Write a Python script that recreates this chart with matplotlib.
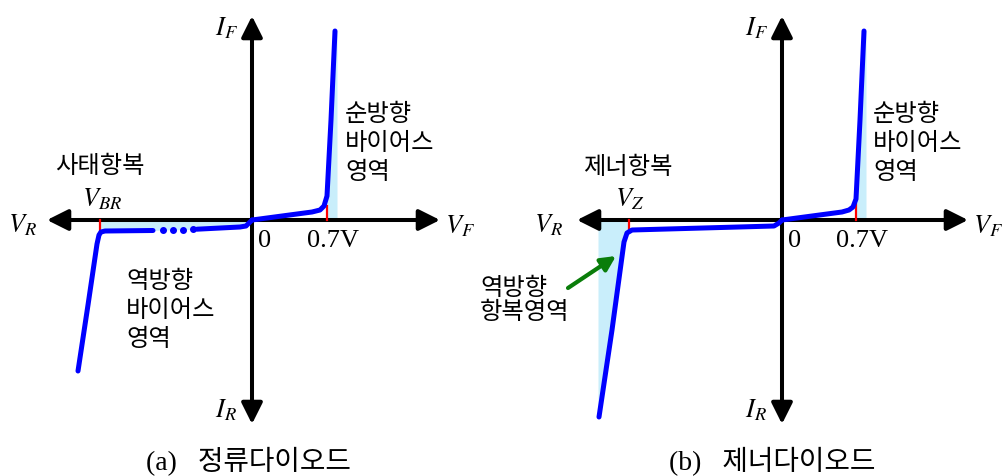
import matplotlib
matplotlib.use("Agg")
import matplotlib.pyplot as plt
import numpy as np

plt.rcParams['mathtext.fontset'] = 'stix'
KR = ['Noto Sans CJK KR']
SERIF_KR = ['Liberation Serif', 'Noto Sans CJK KR']
KS = 17.5

# ---------------- data (panel units: 1 unit ~ 1 px, origin at axis crossing) -------------
# panel (a) rectifier diode
a_rev_x = [-174, -164, -155, -153, -151, -147, -99]
a_rev_y = [-151, -85, -24, -15, -12, -11, -10.5]
a_dots_x = [-89, -79, -69, -59]
a_dots_y = [-10.0, -9.8, -9.6, -9.4]
a_rev2_x = [-55, -12, -6, -3, 0]
a_rev2_y = [-9.2, -7, -6, -3, 0]
a_fwd_x = [0, 60, 68, 72, 75, 79, 83]
a_fwd_y = [0, 8, 10, 14, 24, 100, 189]
a_vbr = -152
a_vbr_depth = -11
a_vf = 75
a_vf_height = 14
a_fwd_shade_edge = 85

# panel (b) zener diode
b_rev_x = [-183, -170, -158, -155, -150, -8, -3, 0]
b_rev_y = [-197, -110, -22, -13, -10, -6, -3, 0]
b_fwd_x = [0, 60, 67, 71, 74, 78, 82]
b_fwd_y = [0, 8, 10, 13, 21, 100, 189]
b_vz = -153
b_vz_depth = -10
b_vf = 74
b_vf_height = 16
b_fwd_shade_edge = 84
b_rev_shade_edge = -184

BLUE = '#0000ff'
SHADE = '#c9eefb'

fig = plt.figure(figsize=(10.03, 4.77), dpi=100)
axA = fig.add_axes([0, 0, 1, 1])
axB = fig.add_axes([0, 0, 1, 1])
axA.set_xlim(-252, 751)
axB.set_xlim(-782, 221)
for ax in (axA, axB):
    ax.set_ylim(-256, 221)
    ax.axis('off')
    ax.patch.set_alpha(0)


def draw_axes(ax, xl, xr, yb, yt):
    ap = dict(arrowstyle='-|>', lw=2.9, color='k', mutation_scale=32,
              shrinkA=0, shrinkB=0)
    ax.annotate('', xy=(xl, 0), xytext=(0, 0), arrowprops=ap, zorder=3)
    ax.annotate('', xy=(xr, 0), xytext=(0, 0), arrowprops=ap, zorder=3)
    ax.annotate('', xy=(0, yt), xytext=(0, 0), arrowprops=ap, zorder=3)
    ax.annotate('', xy=(0, yb), xytext=(0, 0), arrowprops=ap, zorder=3)


def kr(ax, x, y, t, ha='left', size=KS):
    ax.text(x, y, t, family=KR, fontsize=size, ha=ha, va='center')


# ---------------- panel (a) ----------------
ax = axA
xs = np.array(a_rev_x[3:] + a_dots_x + a_rev2_x)
ys = np.array(a_rev_y[3:] + a_dots_y + a_rev2_y)
ax.fill_between(xs, ys, 0, color=SHADE, lw=0, zorder=1)
fy = np.array(a_fwd_y[4:])
fx = np.array(a_fwd_x[4:])
ax.fill_betweenx(np.concatenate([[0], fy]), np.concatenate([[a_vf], fx]),
                 a_fwd_shade_edge, color=SHADE, lw=0, zorder=1)
draw_axes(ax, -205, 188, -204, 204)
ax.plot([a_vbr, a_vbr], [0, a_vbr_depth], color='red', lw=1.6, zorder=4)
ax.plot([a_vf, a_vf], [0, a_vf_height], color='red', lw=1.6, zorder=4)
ax.plot(a_rev_x, a_rev_y, color=BLUE, lw=3.6, solid_capstyle='round',
        solid_joinstyle='round', zorder=5)
ax.plot(a_dots_x, a_dots_y, 'o', color=BLUE, ms=4.0, zorder=5)
ax.plot(a_rev2_x, a_rev2_y, color=BLUE, lw=3.6, solid_capstyle='round',
        solid_joinstyle='round', zorder=5)
ax.plot(a_fwd_x, a_fwd_y, color=BLUE, lw=3.6, solid_capstyle='round',
        solid_joinstyle='round', zorder=5)

ms = 19
ax.text(-26, 193, r'$I_F$', fontsize=ms, ha='center', va='center')
ax.text(-26, -189, r'$I_R$', fontsize=ms, ha='center', va='center')
ax.text(-230, -4, r'$V_R$', fontsize=ms, ha='center', va='center')
ax.text(208, -5, r'$V_F$', fontsize=ms, ha='center', va='center')
ax.text(-150, 22, r'$V_{BR}$', fontsize=ms, ha='center', va='center')
kr(ax, -152, 55, '사태항복', ha='center')
ax.text(13, -20, '0', family='Liberation Serif', fontsize=19, ha='center', va='center')
ax.text(81, -20, '0.7V', family='Liberation Serif', fontsize=19, ha='center', va='center')
for t, y in zip(['순방향', '바이어스', '영역'], [107, 78, 49]):
    kr(ax, 93, y, t)
for t, y in zip(['역방향', '바이어스', '영역'], [-60, -89, -118]):
    kr(ax, -126, y, t)
ax.text(-4, -241, '(a)   정류다이오드', family=SERIF_KR, fontsize=20,
        ha='center', va='center')

# ---------------- panel (b) ----------------
ax = axB
rx = np.array(b_rev_x[:4])
ry = np.array(b_rev_y[:4])
ax.fill_betweenx(np.concatenate([ry, [0]]), b_rev_shade_edge,
                 np.concatenate([rx, [b_vz]]), color=SHADE, lw=0, zorder=1)
fy = np.array(b_fwd_y[4:])
fx = np.array(b_fwd_x[4:])
ax.fill_betweenx(np.concatenate([[0], fy]), np.concatenate([[b_vf], fx]),
                 b_fwd_shade_edge, color=SHADE, lw=0, zorder=1)
draw_axes(ax, -205, 186, -204, 204)
ax.plot([b_vz, b_vz], [0, b_vz_depth], color='red', lw=1.6, zorder=4)
ax.plot([b_vf, b_vf], [0, b_vf_height], color='red', lw=1.6, zorder=4)
ax.plot(b_rev_x, b_rev_y, color=BLUE, lw=3.6, solid_capstyle='round',
        solid_joinstyle='round', zorder=5)
ax.plot(b_fwd_x, b_fwd_y, color=BLUE, lw=3.6, solid_capstyle='round',
        solid_joinstyle='round', zorder=5)
ax.annotate('', xy=(-166, -36), xytext=(-214, -68),
            arrowprops=dict(arrowstyle='-|>', lw=3, color='#0a7d0a',
                            mutation_scale=22, shrinkA=0, shrinkB=0), zorder=6)

ax.text(-26, 193, r'$I_F$', fontsize=ms, ha='center', va='center')
ax.text(-26, -189, r'$I_R$', fontsize=ms, ha='center', va='center')
ax.text(-234, -4, r'$V_R$', fontsize=ms, ha='center', va='center')
ax.text(206, -5, r'$V_F$', fontsize=ms, ha='center', va='center')
ax.text(-152, 22, r'$V_Z$', fontsize=ms, ha='center', va='center')
kr(ax, -154, 54, '제너항복', ha='center')
ax.text(13, -20, '0', family='Liberation Serif', fontsize=19, ha='center', va='center')
ax.text(80, -20, '0.7V', family='Liberation Serif', fontsize=19, ha='center', va='center')
for t, y in zip(['순방향', '바이어스', '영역'], [107, 78, 49]):
    kr(ax, 91, y, t)
for t, y in zip(['역방향', '항복영역'], [-67, -91]):
    kr(ax, -302, y, t)
ax.text(-10, -241, '(b)   제너다이오드', family=SERIF_KR, fontsize=20,
        ha='center', va='center')

fig.savefig('out.png', dpi=100)
